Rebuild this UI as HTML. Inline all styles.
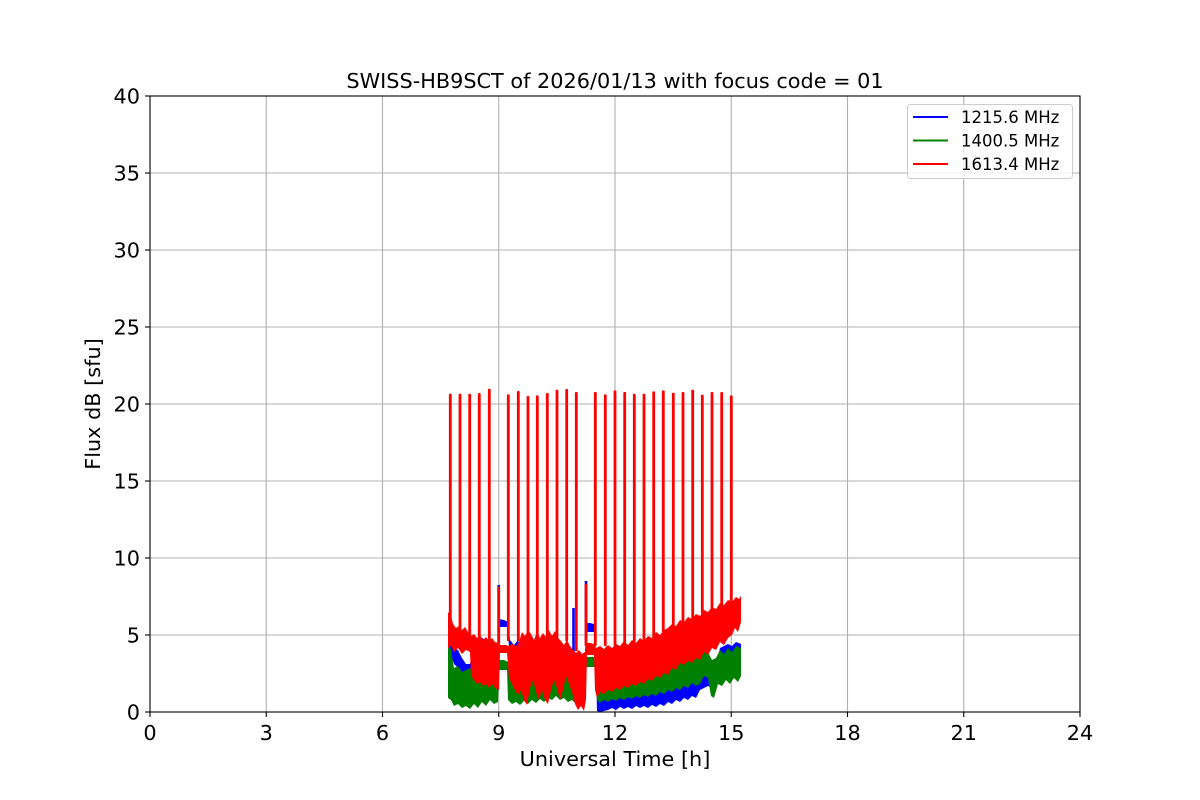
<!DOCTYPE html>
<html>
<head>
<meta charset="utf-8">
<style>
html,body{margin:0;padding:0;background:#fff;}
svg{display:block;}
text{font-family:"DejaVu Sans","Liberation Sans",sans-serif;fill:#000;}
</style>
</head>
<body>
<svg width="1200" height="800" viewBox="0 0 1200 800" xmlns="http://www.w3.org/2000/svg">
<rect x="0" y="0" width="1200" height="800" fill="#fff"/>
<!-- grid -->
<g stroke="#b0b0b0" stroke-width="1.1">
<line x1="266.25" y1="96" x2="266.25" y2="712"/>
<line x1="382.5" y1="96" x2="382.5" y2="712"/>
<line x1="498.75" y1="96" x2="498.75" y2="712"/>
<line x1="615" y1="96" x2="615" y2="712"/>
<line x1="731.25" y1="96" x2="731.25" y2="712"/>
<line x1="847.5" y1="96" x2="847.5" y2="712"/>
<line x1="963.75" y1="96" x2="963.75" y2="712"/>
<line x1="150" y1="173" x2="1080" y2="173"/>
<line x1="150" y1="250" x2="1080" y2="250"/>
<line x1="150" y1="327" x2="1080" y2="327"/>
<line x1="150" y1="404" x2="1080" y2="404"/>
<line x1="150" y1="481" x2="1080" y2="481"/>
<line x1="150" y1="558" x2="1080" y2="558"/>
<line x1="150" y1="635" x2="1080" y2="635"/>
</g>

<!-- blue band -->
<polygon fill="#0000ff" points="448,622 451,640 454,648 458,650 462,658 466,664 470,664 474,642 478,645 482,638 486,640 490,640 494,642 497,646 499,619 504,620 508,622 510,640 514,645 518,640 521,650 526,650 530,655 540,650 550,645 560,650 570,648 575,652 580,655 585,656 586,623 590,623 594,624 596,687 600,686 604,682 608,686 612,684 616,682 620,684 624,680 628,684 632,680 636,682 640,678 644,680 648,678 652,682 656,676 660,678 664,674 668,676 672,674 676,676 680,672 684,674 688,670 692,672 696,668 700,670 704,666 708,668 712,664 716,666 720,648 724,646 728,644 732,646 736,642 741,644 741,668 736,670 732,668 728,672 724,666 720,670 716,690 712,688 708,686 704,688 700,690 696,698 692,696 688,700 684,698 680,702 676,700 672,704 668,702 664,706 660,704 656,707 652,705 648,708 644,706 640,708 636,706 632,709 628,707 624,709 620,707 616,710 612,708 608,710 604,711 600,712 597,711 595,632 590,632 586,632 585,680 570,680 560,676 550,672 540,676 530,680 524,660 520,660 510,670 508,627 504,627 499,627 498,666 494,664 490,668 486,665 482,672 478,668 474,670 470,673 466,673 462,672 458,668 454,664 451,655 448,648"/>
<g stroke="#0000ff" stroke-width="2.6" fill="none">
<line x1="498.7" y1="640" x2="498.7" y2="585"/>
<line x1="573.5" y1="655" x2="573.5" y2="608"/>
<line x1="586" y1="640" x2="586" y2="581"/>
</g>

<!-- green band -->
<polygon fill="#008000" points="448,640 451,650 454,668 458,666 462,672 466,670 470,668 474,676 478,672 482,670 486,674 490,668 494,672 498,670 499,660 504,660 508,662 510,676 514,678 517,672 520,668 524,674 528,668 532,676 536,670 540,672 544,666 548,662 552,668 556,660 560,664 564,670 568,674 572,682 576,684 580,682 584,686 586,657 590,657 594,657 596,676 600,678 604,674 608,678 612,676 616,672 620,674 624,670 628,672 632,668 636,670 640,666 644,668 648,664 652,666 656,662 660,664 664,660 668,662 672,658 676,660 680,656 684,658 688,654 692,656 696,652 700,654 704,650 708,652 712,660 716,658 720,650 724,654 728,648 732,652 736,646 741,648 741,676 738,682 734,678 730,684 726,680 722,686 718,684 714,698 711,696 708,678 704,676 700,684 696,686 692,683 688,688 684,686 680,690 676,688 672,692 668,690 664,694 660,692 656,696 652,694 648,697 644,695 640,698 636,696 632,699 628,697 624,700 620,698 616,701 612,699 608,702 604,700 600,703 597,700 595,667 590,667 586,667 584,704 580,702 576,704 572,700 568,702 564,698 560,700 556,696 552,700 548,698 544,702 540,699 536,703 532,700 528,704 524,701 520,705 516,702 512,704 508,700 507,670 499,670 498,702 494,704 490,700 486,706 482,702 478,708 474,704 470,709 466,706 462,708 458,704 454,706 451,700 448,698"/>

<!-- red band -->
<polygon fill="#ff0000" points="448,612 451,616 453,624 456,628 459,626 462,630 465,627 468,632 471,636 474,634 477,638 480,635 483,640 486,637 489,641 492,638 495,642 498,643 500,645 506,645 508,646 512,644 516,646 519,642 522,632 525,636 528,630 531,634 534,640 537,632 540,638 543,633 546,637 549,630 552,636 555,631 558,638 561,641 564,645 567,640 570,646 573,650 576,653 579,650 582,654 585,652 586,643 590,643 594,644 596,648 600,646 604,649 608,645 612,648 616,644 620,646 624,641 628,645 632,640 636,643 640,638 644,641 648,636 652,638 656,632 660,635 664,630 668,628 672,624 676,626 680,620 684,622 688,617 692,619 696,614 700,616 704,610 708,612 712,607 716,609 720,603 724,605 728,600 732,602 736,597 739,599 741,596 741,622 738,632 735,628 732,635 728,638 724,645 720,642 716,650 712,648 708,655 704,652 700,660 696,658 692,663 688,661 684,665 680,663 676,670 672,668 668,675 664,673 660,678 656,676 652,681 648,679 644,684 640,682 636,686 632,684 628,688 624,686 620,690 616,688 612,692 608,690 604,694 600,692 597,698 595,690 594,655 590,655 587,655 586,700 584,711 581,706 578,710 575,704 572,692 569,684 566,676 563,690 560,700 557,688 554,680 551,690 548,704 545,700 542,690 539,700 536,692 533,680 530,688 527,705 524,700 521,690 518,695 515,690 512,684 509,678 507,653 500,653 499,690 495,688 492,684 489,688 486,684 483,686 480,682 477,684 474,680 471,676 470,652 466,650 462,654 458,648 454,652 451,646 448,648"/>

<!-- red spikes -->
<g stroke="#ff0000" stroke-width="2.8" fill="none" stroke-linecap="round">
<line x1="450.3" y1="640" x2="450.3" y2="395"/>
<line x1="460" y1="640" x2="460" y2="395"/>
<line x1="469.7" y1="640" x2="469.7" y2="395"/>
<line x1="479.3" y1="640" x2="479.3" y2="394.3"/>
<line x1="489.3" y1="640" x2="489.3" y2="390"/>
<line x1="498.7" y1="645" x2="498.7" y2="588"/>
<line x1="508.3" y1="640" x2="508.3" y2="395.7"/>
<line x1="518.3" y1="640" x2="518.3" y2="392.3"/>
<line x1="528" y1="640" x2="528" y2="397.3"/>
<line x1="537.3" y1="640" x2="537.3" y2="396.7"/>
<line x1="547.3" y1="640" x2="547.3" y2="394.3"/>
<line x1="557" y1="640" x2="557" y2="391"/>
<line x1="566.7" y1="640" x2="566.7" y2="390.3"/>
<line x1="576.3" y1="650" x2="576.3" y2="393.3"/>
<line x1="586" y1="645" x2="586" y2="585"/>
<line x1="595.3" y1="645" x2="595.3" y2="393.3"/>
<line x1="605.3" y1="645" x2="605.3" y2="395.7"/>
<line x1="615" y1="645" x2="615" y2="391.7"/>
<line x1="624.7" y1="642" x2="624.7" y2="393.3"/>
<line x1="634.3" y1="642" x2="634.3" y2="395"/>
<line x1="644" y1="640" x2="644" y2="395"/>
<line x1="653.7" y1="637" x2="653.7" y2="392.7"/>
<line x1="663.3" y1="632" x2="663.3" y2="391.7"/>
<line x1="673.3" y1="626" x2="673.3" y2="394"/>
<line x1="683" y1="622" x2="683" y2="393.3"/>
<line x1="692.7" y1="620" x2="692.7" y2="391"/>
<line x1="702.3" y1="613" x2="702.3" y2="396"/>
<line x1="712" y1="610" x2="712" y2="393.3"/>
<line x1="721.7" y1="605" x2="721.7" y2="393.3"/>
<line x1="731.3" y1="602" x2="731.3" y2="396.7"/>
</g>

<!-- spines -->
<rect x="150" y="96" width="930" height="616" fill="none" stroke="#000" stroke-width="1.1"/>

<!-- ticks -->
<g stroke="#000" stroke-width="1.1">
<line x1="150" y1="712" x2="150" y2="717"/>
<line x1="266.25" y1="712" x2="266.25" y2="717"/>
<line x1="382.5" y1="712" x2="382.5" y2="717"/>
<line x1="498.75" y1="712" x2="498.75" y2="717"/>
<line x1="615" y1="712" x2="615" y2="717"/>
<line x1="731.25" y1="712" x2="731.25" y2="717"/>
<line x1="847.5" y1="712" x2="847.5" y2="717"/>
<line x1="963.75" y1="712" x2="963.75" y2="717"/>
<line x1="1080" y1="712" x2="1080" y2="717"/>
<line x1="145" y1="96" x2="150" y2="96"/>
<line x1="145" y1="173" x2="150" y2="173"/>
<line x1="145" y1="250" x2="150" y2="250"/>
<line x1="145" y1="327" x2="150" y2="327"/>
<line x1="145" y1="404" x2="150" y2="404"/>
<line x1="145" y1="481" x2="150" y2="481"/>
<line x1="145" y1="558" x2="150" y2="558"/>
<line x1="145" y1="635" x2="150" y2="635"/>
<line x1="145" y1="712" x2="150" y2="712"/>
</g>

<g font-size="20.8" text-anchor="middle">
<text x="150" y="740">0</text>
<text x="266.25" y="740">3</text>
<text x="382.5" y="740">6</text>
<text x="498.75" y="740">9</text>
<text x="615" y="740">12</text>
<text x="731.25" y="740">15</text>
<text x="847.5" y="740">18</text>
<text x="963.75" y="740">21</text>
<text x="1080" y="740">24</text>
</g>
<g font-size="20.8" text-anchor="end">
<text x="140" y="103.5">40</text>
<text x="140" y="180.5">35</text>
<text x="140" y="257.5">30</text>
<text x="140" y="334.5">25</text>
<text x="140" y="411.5">20</text>
<text x="140" y="488.5">15</text>
<text x="140" y="565.5">10</text>
<text x="140" y="642.5">5</text>
<text x="140" y="719.5">0</text>
</g>

<text x="615" y="88" font-size="20.8" text-anchor="middle">SWISS-HB9SCT of 2026/01/13 with focus code = 01</text>
<text x="615" y="766" font-size="20.8" text-anchor="middle">Universal Time [h]</text>
<text transform="translate(100,404) rotate(-90)" font-size="20.8" text-anchor="middle">Flux dB [sfu]</text>

<!-- legend -->
<rect x="907.5" y="104.5" width="165" height="74" rx="3" ry="3" fill="#fff" fill-opacity="0.8" stroke="#cccccc" stroke-width="1"/>
<line x1="913" y1="117" x2="948" y2="117" stroke="#0000ff" stroke-width="2.1"/>
<line x1="913" y1="140.5" x2="948" y2="140.5" stroke="#008000" stroke-width="2.1"/>
<line x1="913" y1="164" x2="948" y2="164" stroke="#ff0000" stroke-width="2.1"/>
<g font-size="16.5">
<text x="961" y="123">1215.6 MHz</text>
<text x="961" y="146.5">1400.5 MHz</text>
<text x="961" y="170">1613.4 MHz</text>
</g>
</svg>
</body>
</html>
